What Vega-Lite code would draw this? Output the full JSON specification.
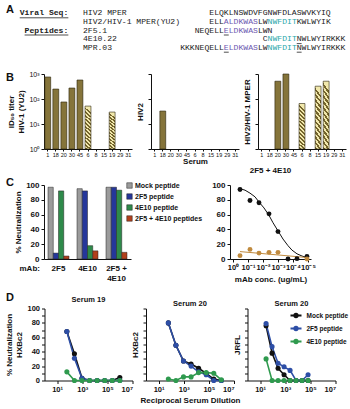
{
  "$schema": "https://vega.github.io/schema/vega-lite/v6.json",
  "padding": {"left": 5, "top": 0, "right": 0, "bottom": 0},
  "config": {
    "font": "Liberation Sans",
    "view": {"stroke": null},
    "axis": {"grid": false, "domainColor": "#111", "tickColor": "#111", "labelColor": "#111", "titleColor": "#111", "labelFontWeight": "bold", "titleFontWeight": "bold", "labelFontSize": 7, "titleFontSize": 8, "tickSize": 3, "domainWidth": 1, "tickWidth": 1, "labelPadding": 2, "titlePadding": 3},
    "legend": {"labelFontWeight": "bold", "labelFontSize": 7, "labelColor": "#111", "padding": 0, "title": null},
    "title": {"fontWeight": "bold", "fontSize": 8, "color": "#111"},
    "text": {"fontSize": 11, "fontWeight": "bold", "color": "#111", "align": "left", "baseline": "top"}
  },
  "datasets": {
    "seq": [
      {"line": 1, "col": -39, "text": "Viral Seq:", "cls": "lab"},
      {"line": 1, "col": -26, "text": "HIV2 MPER", "cls": "k"},
      {"line": 1, "col": 0, "text": "ELQKLNSWDVFGNWFDLASWVKYIQ", "cls": "k"},
      {"line": 2, "col": -26, "text": "HIV2/HIV-1 MPER(YU2)", "cls": "k"},
      {"line": 2, "col": 0, "text": "ELL", "cls": "k"},
      {"line": 2, "col": 3, "text": "ALDKWAS", "cls": "p"},
      {"line": 2, "col": 10, "text": "LW", "cls": "k"},
      {"line": 2, "col": 12, "text": "NWFDIT", "cls": "t"},
      {"line": 2, "col": 18, "text": "KWLWYIK", "cls": "k"},
      {"line": 3, "col": -38, "text": "Peptides:", "cls": "lab"},
      {"line": 3, "col": -26, "text": "2F5.1", "cls": "k"},
      {"line": 3, "col": -3, "text": "NEQELL", "cls": "k"},
      {"line": 3, "col": 3, "text": "ELDKWAS", "cls": "p"},
      {"line": 3, "col": 10, "text": "LWN", "cls": "k"},
      {"line": 4, "col": -26, "text": "4E10.22", "cls": "k"},
      {"line": 4, "col": 11, "text": "C", "cls": "k"},
      {"line": 4, "col": 12, "text": "NWFDIT", "cls": "t"},
      {"line": 4, "col": 18, "text": "NWLWYIRKKK", "cls": "k"},
      {"line": 5, "col": -26, "text": "MPR.03", "cls": "k"},
      {"line": 5, "col": -6, "text": "KKKNEQELL", "cls": "k"},
      {"line": 5, "col": 3, "text": "ELDKWAS", "cls": "p"},
      {"line": 5, "col": 10, "text": "LW", "cls": "k"},
      {"line": 5, "col": 12, "text": "NWFDIT", "cls": "t"},
      {"line": 5, "col": 18, "text": "NWLWYIRKKK", "cls": "k"}
    ],
    "ul": [
      {"line": 1, "start": -39, "end": -29},
      {"line": 3, "start": -38, "end": -29},
      {"line": 3, "start": 3, "end": 4},
      {"line": 4, "start": 18, "end": 19},
      {"line": 5, "start": 3, "end": 4},
      {"line": 5, "start": 18, "end": 19}
    ],
    "bdata": [
      {"virus": "YU2", "serum": "1", "titer": 760, "group": "solid"},
      {"virus": "YU2", "serum": "18", "titer": 250, "group": "solid"},
      {"virus": "YU2", "serum": "20", "titer": 76, "group": "solid"},
      {"virus": "YU2", "serum": "30", "titer": 275, "group": "solid"},
      {"virus": "YU2", "serum": "45", "titer": 575, "group": "solid"},
      {"virus": "YU2", "serum": "6", "titer": 52, "group": "hatched"},
      {"virus": "YU2", "serum": "19", "titer": 30, "group": "hatched"},
      {"virus": "HIV2", "serum": "18", "titer": 33, "group": "solid"},
      {"virus": "MPER", "serum": "20", "titer": 515, "group": "solid"},
      {"virus": "MPER", "serum": "30", "titer": 1000, "group": "solid"},
      {"virus": "MPER", "serum": "6", "titer": 66, "group": "hatched"},
      {"virus": "MPER", "serum": "15", "titer": 325, "group": "hatched"},
      {"virus": "MPER", "serum": "19", "titer": 515, "group": "hatched"}
    ],
    "cbar": [
      {"mab": "2F5", "peptide": "Mock peptide", "pct": 97},
      {"mab": "2F5", "peptide": "2F5 peptide", "pct": 8},
      {"mab": "2F5", "peptide": "4E10 peptide", "pct": 92},
      {"mab": "2F5", "peptide": "2F5 + 4E10 peptides", "pct": 4},
      {"mab": "4E10", "peptide": "Mock peptide", "pct": 95},
      {"mab": "4E10", "peptide": "2F5 peptide", "pct": 92},
      {"mab": "4E10", "peptide": "4E10 peptide", "pct": 18},
      {"mab": "4E10", "peptide": "2F5 + 4E10 peptides", "pct": 11},
      {"mab": "2F5 + 4E10", "peptide": "Mock peptide", "pct": 97},
      {"mab": "2F5 + 4E10", "peptide": "2F5 peptide", "pct": 97},
      {"mab": "2F5 + 4E10", "peptide": "4E10 peptide", "pct": 93},
      {"mab": "2F5 + 4E10", "peptide": "2F5 + 4E10 peptides", "pct": 9}
    ],
    "cpts": [
      {"series": "Mock peptide", "conc": 0.341, "pct": 94},
      {"series": "Mock peptide", "conc": 0.0736, "pct": 79},
      {"series": "Mock peptide", "conc": 0.0185, "pct": 76},
      {"series": "Mock peptide", "conc": 0.00398, "pct": 61},
      {"series": "Mock peptide", "conc": 0.001, "pct": 37},
      {"series": "Mock peptide", "conc": 0.000215, "pct": 0},
      {"series": "Mock peptide", "conc": 0.0000541, "pct": 0.5},
      {"series": "Mock peptide", "conc": 0.0000117, "pct": 3.5},
      {"series": "2F5/4E10 Peptides", "conc": 0.341, "pct": 4.5},
      {"series": "2F5/4E10 Peptides", "conc": 0.0736, "pct": 13},
      {"series": "2F5/4E10 Peptides", "conc": 0.0185, "pct": 8},
      {"series": "2F5/4E10 Peptides", "conc": 0.00398, "pct": 9},
      {"series": "2F5/4E10 Peptides", "conc": 0.001, "pct": 9},
      {"series": "2F5/4E10 Peptides", "conc": 0.0000117, "pct": 0}
    ],
    "cfit": [
      {"series": "Mock peptide", "conc": 0.341, "pct": 95},
      {"series": "Mock peptide", "conc": 0.158, "pct": 93},
      {"series": "Mock peptide", "conc": 0.0736, "pct": 89},
      {"series": "Mock peptide", "conc": 0.0341, "pct": 84},
      {"series": "Mock peptide", "conc": 0.0185, "pct": 77},
      {"series": "Mock peptide", "conc": 0.00858, "pct": 69},
      {"series": "Mock peptide", "conc": 0.00398, "pct": 59},
      {"series": "Mock peptide", "conc": 0.00215, "pct": 49},
      {"series": "Mock peptide", "conc": 0.001, "pct": 38},
      {"series": "Mock peptide", "conc": 0.000464, "pct": 27},
      {"series": "Mock peptide", "conc": 0.000215, "pct": 18},
      {"series": "Mock peptide", "conc": 0.000117, "pct": 12},
      {"series": "Mock peptide", "conc": 0.0000541, "pct": 7},
      {"series": "Mock peptide", "conc": 0.0000251, "pct": 4},
      {"series": "Mock peptide", "conc": 0.0000117, "pct": 2},
      {"series": "2F5/4E10 Peptides", "conc": 0.341, "pct": 10},
      {"series": "2F5/4E10 Peptides", "conc": 0.0000117, "pct": 2}
    ],
    "ddata": [
      {"panel": "s19", "pep": "Mock peptide", "dil": 60, "pct": 68},
      {"panel": "s19", "pep": "Mock peptide", "dil": 240, "pct": 37},
      {"panel": "s19", "pep": "Mock peptide", "dil": 960, "pct": 3},
      {"panel": "s19", "pep": "Mock peptide", "dil": 3840, "pct": 0},
      {"panel": "s19", "pep": "Mock peptide", "dil": 15360, "pct": 0},
      {"panel": "s19", "pep": "Mock peptide", "dil": 61440, "pct": 0},
      {"panel": "s19", "pep": "Mock peptide", "dil": 245760, "pct": 0},
      {"panel": "s19", "pep": "Mock peptide", "dil": 983040, "pct": 4},
      {"panel": "s19", "pep": "2F5 peptide", "dil": 60, "pct": 68},
      {"panel": "s19", "pep": "2F5 peptide", "dil": 240, "pct": 31},
      {"panel": "s19", "pep": "2F5 peptide", "dil": 960, "pct": 3},
      {"panel": "s19", "pep": "2F5 peptide", "dil": 3840, "pct": 0},
      {"panel": "s19", "pep": "2F5 peptide", "dil": 15360, "pct": 0},
      {"panel": "s19", "pep": "2F5 peptide", "dil": 61440, "pct": 0},
      {"panel": "s19", "pep": "2F5 peptide", "dil": 245760, "pct": 0},
      {"panel": "s19", "pep": "2F5 peptide", "dil": 983040, "pct": 0},
      {"panel": "s19", "pep": "4E10 peptide", "dil": 60, "pct": 12},
      {"panel": "s19", "pep": "4E10 peptide", "dil": 240, "pct": 0},
      {"panel": "s19", "pep": "4E10 peptide", "dil": 960, "pct": 0},
      {"panel": "s19", "pep": "4E10 peptide", "dil": 3840, "pct": 0},
      {"panel": "s19", "pep": "4E10 peptide", "dil": 15360, "pct": 0},
      {"panel": "s19", "pep": "4E10 peptide", "dil": 61440, "pct": 0},
      {"panel": "s19", "pep": "4E10 peptide", "dil": 245760, "pct": 0},
      {"panel": "s19", "pep": "4E10 peptide", "dil": 983040, "pct": 0},
      {"panel": "s20h", "pep": "Mock peptide", "dil": 60, "pct": 80},
      {"panel": "s20h", "pep": "Mock peptide", "dil": 240, "pct": 49},
      {"panel": "s20h", "pep": "Mock peptide", "dil": 960, "pct": 27},
      {"panel": "s20h", "pep": "Mock peptide", "dil": 3840, "pct": 23},
      {"panel": "s20h", "pep": "Mock peptide", "dil": 15360, "pct": 17},
      {"panel": "s20h", "pep": "Mock peptide", "dil": 61440, "pct": 10},
      {"panel": "s20h", "pep": "Mock peptide", "dil": 245760, "pct": 2},
      {"panel": "s20h", "pep": "Mock peptide", "dil": 983040, "pct": 0},
      {"panel": "s20h", "pep": "2F5 peptide", "dil": 60, "pct": 80},
      {"panel": "s20h", "pep": "2F5 peptide", "dil": 240, "pct": 49},
      {"panel": "s20h", "pep": "2F5 peptide", "dil": 960, "pct": 27},
      {"panel": "s20h", "pep": "2F5 peptide", "dil": 3840, "pct": 20},
      {"panel": "s20h", "pep": "2F5 peptide", "dil": 15360, "pct": 12},
      {"panel": "s20h", "pep": "2F5 peptide", "dil": 61440, "pct": 8},
      {"panel": "s20h", "pep": "2F5 peptide", "dil": 245760, "pct": 0},
      {"panel": "s20h", "pep": "2F5 peptide", "dil": 983040, "pct": 0},
      {"panel": "s20h", "pep": "4E10 peptide", "dil": 60, "pct": 2},
      {"panel": "s20h", "pep": "4E10 peptide", "dil": 240, "pct": 0},
      {"panel": "s20h", "pep": "4E10 peptide", "dil": 960, "pct": 5},
      {"panel": "s20h", "pep": "4E10 peptide", "dil": 3840, "pct": 5},
      {"panel": "s20h", "pep": "4E10 peptide", "dil": 15360, "pct": 11},
      {"panel": "s20h", "pep": "4E10 peptide", "dil": 61440, "pct": 11},
      {"panel": "s20h", "pep": "4E10 peptide", "dil": 245760, "pct": 10},
      {"panel": "s20h", "pep": "4E10 peptide", "dil": 983040, "pct": 1},
      {"panel": "s20j", "pep": "Mock peptide", "dil": 30, "pct": 76},
      {"panel": "s20j", "pep": "Mock peptide", "dil": 90, "pct": 38},
      {"panel": "s20j", "pep": "Mock peptide", "dil": 270, "pct": 17},
      {"panel": "s20j", "pep": "Mock peptide", "dil": 810, "pct": 8},
      {"panel": "s20j", "pep": "Mock peptide", "dil": 2430, "pct": 0},
      {"panel": "s20j", "pep": "Mock peptide", "dil": 7290, "pct": 0},
      {"panel": "s20j", "pep": "Mock peptide", "dil": 21870, "pct": 0},
      {"panel": "s20j", "pep": "Mock peptide", "dil": 65610, "pct": 0},
      {"panel": "s20j", "pep": "2F5 peptide", "dil": 30, "pct": 79},
      {"panel": "s20j", "pep": "2F5 peptide", "dil": 90, "pct": 47},
      {"panel": "s20j", "pep": "2F5 peptide", "dil": 270, "pct": 24},
      {"panel": "s20j", "pep": "2F5 peptide", "dil": 810, "pct": 19},
      {"panel": "s20j", "pep": "2F5 peptide", "dil": 2430, "pct": 14},
      {"panel": "s20j", "pep": "2F5 peptide", "dil": 7290, "pct": 0},
      {"panel": "s20j", "pep": "2F5 peptide", "dil": 21870, "pct": 0},
      {"panel": "s20j", "pep": "2F5 peptide", "dil": 65610, "pct": 8},
      {"panel": "s20j", "pep": "4E10 peptide", "dil": 30, "pct": 30},
      {"panel": "s20j", "pep": "4E10 peptide", "dil": 90, "pct": 0},
      {"panel": "s20j", "pep": "4E10 peptide", "dil": 270, "pct": 0},
      {"panel": "s20j", "pep": "4E10 peptide", "dil": 810, "pct": 0},
      {"panel": "s20j", "pep": "4E10 peptide", "dil": 2430, "pct": 0},
      {"panel": "s20j", "pep": "4E10 peptide", "dil": 7290, "pct": 0},
      {"panel": "s20j", "pep": "4E10 peptide", "dil": 21870, "pct": 0},
      {"panel": "s20j", "pep": "4E10 peptide", "dil": 65610, "pct": 0}
    ]
  },
  "spacing": 7.5,
  "resolve": {"scale": {"color": "independent", "stroke": "independent", "x": "independent", "y": "independent"}, "legend": {"color": "independent", "stroke": "independent"}},
  "vconcat": [
    {
      "spacing": 0,
      "resolve": {"scale": {"color": "independent", "stroke": "independent", "x": "independent", "y": "independent"}, "legend": {"color": "independent", "stroke": "independent"}},
      "vconcat": [
        {
          "bounds": "flush",
          "spacing": 10,
          "resolve": {"scale": {"color": "independent", "x": "independent", "y": "independent"}},
          "hconcat": [
            {
              "width": 28, "height": 69.5,
              "data": {"values": [{"letter": "A"}]},
              "mark": {"type": "text"},
              "encoding": {
                "text": {"field": "letter"},
                "x": {"datum": 0, "type": "quantitative", "scale": {"domain": [0, 1], "nice": false}, "axis": null},
                "y": {"datum": 0.9396, "type": "quantitative", "scale": {"domain": [0, 1], "nice": false}, "axis": null}
              }
            },
            {
              "width": 300,
              "height": 69.5,
              "data": {"name": "seq"},
              "encoding": {
                "y": {"field": "line", "type": "ordinal", "scale": {"type": "point", "range": [9, 52]}, "axis": null}
              },
              "layer": [
                {
                  "transform": [{"filter": "datum.cls === 'lab'"}],
                  "mark": {"type": "text", "font": "Liberation Mono", "fontSize": 8.1, "fontWeight": "bold", "align": "left", "baseline": "middle", "color": "#222"},
                  "encoding": {
                    "x": {"field": "col", "type": "quantitative", "scale": {"domain": [-34.01, 27.72], "nice": false, "zero": false}, "axis": null},
                    "text": {"field": "text"}
                  }
                },
                {
                  "transform": [{"filter": "datum.cls !== 'lab'"}],
                  "mark": {"type": "text", "font": "Liberation Mono", "fontSize": 8.1, "fontWeight": "normal", "align": "left", "baseline": "middle"},
                  "encoding": {
                    "x": {"field": "col", "type": "quantitative", "scale": {"domain": [-34.01, 27.72], "nice": false, "zero": false}, "axis": null},
                    "text": {"field": "text"},
                    "color": {"field": "cls", "type": "nominal", "scale": {"domain": ["k", "p", "t"], "range": ["#222222", "#6c57b0", "#2aa8aa"]}, "legend": null}
                  }
                },
                {
                  "data": {"name": "ul"},
                  "mark": {"type": "rule", "color": "#222", "strokeWidth": 0.8, "yOffset": 4.5},
                  "encoding": {
                    "x": {"field": "start", "type": "quantitative", "scale": {"domain": [-34.01, 27.72], "nice": false, "zero": false}, "axis": null},
                    "x2": {"field": "end"}
                  }
                }
              ]
            }
          ]
        },
        {
          "bounds": "flush",
          "spacing": 19,
          "resolve": {"scale": {"x": "independent", "y": "independent"}},
          "hconcat": [
            {
              "width": 19, "height": 75,
              "data": {"values": [{"letter": "B"}]},
              "mark": {"type": "text"},
              "encoding": {
                "text": {"field": "letter"},
                "x": {"datum": 0, "type": "quantitative", "scale": {"domain": [0, 1], "nice": false}, "axis": null},
                "y": {"datum": 1.024, "type": "quantitative", "scale": {"domain": [0, 1], "nice": false}, "axis": null}
              }
            },
            {
              "width": 88, "height": 75,
              "data": {"name": "bdata"},
              "transform": [{"filter": "datum.virus === 'YU2'"}],
              "encoding": {
                "x": {"field": "serum", "type": "nominal", "scale": {"domain": ["1", "18", "20", "30", "45", "6", "8", "15", "19", "29", "31"], "paddingInner": 0.27, "paddingOuter": 0.1}, "axis": {"title": null, "labelAngle": 0, "labelFontSize": 5.5, "tickSize": 2, "labelPadding": 1, "labelFontWeight": "normal"}},
                "y": {"field": "titer", "type": "quantitative", "scale": {"type": "log", "domain": [1, 1000], "nice": false}, "axis": {"values": [1, 10, 100, 1000], "labelExpr": "datum.value < 5 ? '10⁰' : datum.value < 50 ? '10¹' : datum.value < 500 ? '10²' : '10³'", "title": ["ID₅₀ titer", "HIV-1 (YU2)"], "labelFontWeight": "normal"}},
                "y2": {"datum": 1}
              },
              "layer": [
                {"transform": [{"filter": "datum.group === 'solid'"}], "mark": {"type": "bar", "fill": "#85743a", "stroke": "#2a230c", "strokeWidth": 0.6}},
                {"transform": [{"filter": "datum.group === 'hatched'"}], "mark": {"type": "bar", "stroke": "#2a230c", "strokeWidth": 0.6, "fill": {"gradient": "linear", "x1": 0.12, "y1": 0, "x2": 0, "y2": 1, "stops": [
                  {"offset": 0, "color": "#f1e8ac"}, {"offset": 0.04167, "color": "#f1e8ac"}, {"offset": 0.04167, "color": "#75652c"}, {"offset": 0.08333, "color": "#75652c"},
                  {"offset": 0.08333, "color": "#f1e8ac"}, {"offset": 0.125, "color": "#f1e8ac"}, {"offset": 0.125, "color": "#75652c"}, {"offset": 0.16667, "color": "#75652c"},
                  {"offset": 0.16667, "color": "#f1e8ac"}, {"offset": 0.20833, "color": "#f1e8ac"}, {"offset": 0.20833, "color": "#75652c"}, {"offset": 0.25, "color": "#75652c"},
                  {"offset": 0.25, "color": "#f1e8ac"}, {"offset": 0.29167, "color": "#f1e8ac"}, {"offset": 0.29167, "color": "#75652c"}, {"offset": 0.33333, "color": "#75652c"},
                  {"offset": 0.33333, "color": "#f1e8ac"}, {"offset": 0.375, "color": "#f1e8ac"}, {"offset": 0.375, "color": "#75652c"}, {"offset": 0.41667, "color": "#75652c"},
                  {"offset": 0.41667, "color": "#f1e8ac"}, {"offset": 0.45833, "color": "#f1e8ac"}, {"offset": 0.45833, "color": "#75652c"}, {"offset": 0.5, "color": "#75652c"},
                  {"offset": 0.5, "color": "#f1e8ac"}, {"offset": 0.54167, "color": "#f1e8ac"}, {"offset": 0.54167, "color": "#75652c"}, {"offset": 0.58333, "color": "#75652c"},
                  {"offset": 0.58333, "color": "#f1e8ac"}, {"offset": 0.625, "color": "#f1e8ac"}, {"offset": 0.625, "color": "#75652c"}, {"offset": 0.66667, "color": "#75652c"},
                  {"offset": 0.66667, "color": "#f1e8ac"}, {"offset": 0.70833, "color": "#f1e8ac"}, {"offset": 0.70833, "color": "#75652c"}, {"offset": 0.75, "color": "#75652c"},
                  {"offset": 0.75, "color": "#f1e8ac"}, {"offset": 0.79167, "color": "#f1e8ac"}, {"offset": 0.79167, "color": "#75652c"}, {"offset": 0.83333, "color": "#75652c"},
                  {"offset": 0.83333, "color": "#f1e8ac"}, {"offset": 0.875, "color": "#f1e8ac"}, {"offset": 0.875, "color": "#75652c"}, {"offset": 0.91667, "color": "#75652c"},
                  {"offset": 0.91667, "color": "#f1e8ac"}, {"offset": 0.95833, "color": "#f1e8ac"}, {"offset": 0.95833, "color": "#75652c"}, {"offset": 1, "color": "#75652c"}
                ]}}}
              ]
            },
            {
              "width": 88, "height": 75,
              "data": {"name": "bdata"},
              "transform": [{"filter": "datum.virus === 'HIV2'"}],
              "encoding": {
                "x": {"field": "serum", "type": "nominal", "scale": {"domain": ["1", "18", "20", "30", "45", "6", "8", "15", "19", "29", "31"], "paddingInner": 0.27, "paddingOuter": 0.1}, "axis": {"title": "Serum", "labelAngle": 0, "labelFontSize": 5.5, "tickSize": 2, "labelPadding": 1, "labelFontWeight": "normal", "titlePadding": 0}},
                "y": {"field": "titer", "type": "quantitative", "scale": {"type": "log", "domain": [1, 1000], "nice": false}, "axis": {"values": [1, 10, 100, 1000], "labels": false, "title": "HIV2"}},
                "y2": {"datum": 1}
              },
              "mark": {"type": "bar", "fill": "#85743a", "stroke": "#2a230c", "strokeWidth": 0.6}
            },
            {
              "width": 88, "height": 75,
              "data": {"name": "bdata"},
              "transform": [{"filter": "datum.virus === 'MPER'"}],
              "encoding": {
                "x": {"field": "serum", "type": "nominal", "scale": {"domain": ["1", "18", "20", "30", "45", "6", "8", "15", "19", "29", "31"], "paddingInner": 0.27, "paddingOuter": 0.1}, "axis": {"title": null, "labelAngle": 0, "labelFontSize": 5.5, "tickSize": 2, "labelPadding": 1, "labelFontWeight": "normal"}},
                "y": {"field": "titer", "type": "quantitative", "scale": {"type": "log", "domain": [1, 1000], "nice": false}, "axis": {"values": [1, 10, 100, 1000], "labels": false, "title": "HIV2/HIV-1 MPER"}},
                "y2": {"datum": 1}
              },
              "layer": [
                {"transform": [{"filter": "datum.group === 'solid'"}], "mark": {"type": "bar", "fill": "#85743a", "stroke": "#2a230c", "strokeWidth": 0.6}},
                {"transform": [{"filter": "datum.group === 'hatched'"}], "mark": {"type": "bar", "stroke": "#2a230c", "strokeWidth": 0.6, "fill": {"gradient": "linear", "x1": 0.12, "y1": 0, "x2": 0, "y2": 1, "stops": [
                  {"offset": 0, "color": "#f1e8ac"}, {"offset": 0.04167, "color": "#f1e8ac"}, {"offset": 0.04167, "color": "#75652c"}, {"offset": 0.08333, "color": "#75652c"},
                  {"offset": 0.08333, "color": "#f1e8ac"}, {"offset": 0.125, "color": "#f1e8ac"}, {"offset": 0.125, "color": "#75652c"}, {"offset": 0.16667, "color": "#75652c"},
                  {"offset": 0.16667, "color": "#f1e8ac"}, {"offset": 0.20833, "color": "#f1e8ac"}, {"offset": 0.20833, "color": "#75652c"}, {"offset": 0.25, "color": "#75652c"},
                  {"offset": 0.25, "color": "#f1e8ac"}, {"offset": 0.29167, "color": "#f1e8ac"}, {"offset": 0.29167, "color": "#75652c"}, {"offset": 0.33333, "color": "#75652c"},
                  {"offset": 0.33333, "color": "#f1e8ac"}, {"offset": 0.375, "color": "#f1e8ac"}, {"offset": 0.375, "color": "#75652c"}, {"offset": 0.41667, "color": "#75652c"},
                  {"offset": 0.41667, "color": "#f1e8ac"}, {"offset": 0.45833, "color": "#f1e8ac"}, {"offset": 0.45833, "color": "#75652c"}, {"offset": 0.5, "color": "#75652c"},
                  {"offset": 0.5, "color": "#f1e8ac"}, {"offset": 0.54167, "color": "#f1e8ac"}, {"offset": 0.54167, "color": "#75652c"}, {"offset": 0.58333, "color": "#75652c"},
                  {"offset": 0.58333, "color": "#f1e8ac"}, {"offset": 0.625, "color": "#f1e8ac"}, {"offset": 0.625, "color": "#75652c"}, {"offset": 0.66667, "color": "#75652c"},
                  {"offset": 0.66667, "color": "#f1e8ac"}, {"offset": 0.70833, "color": "#f1e8ac"}, {"offset": 0.70833, "color": "#75652c"}, {"offset": 0.75, "color": "#75652c"},
                  {"offset": 0.75, "color": "#f1e8ac"}, {"offset": 0.79167, "color": "#f1e8ac"}, {"offset": 0.79167, "color": "#75652c"}, {"offset": 0.83333, "color": "#75652c"},
                  {"offset": 0.83333, "color": "#f1e8ac"}, {"offset": 0.875, "color": "#f1e8ac"}, {"offset": 0.875, "color": "#75652c"}, {"offset": 0.91667, "color": "#75652c"},
                  {"offset": 0.91667, "color": "#f1e8ac"}, {"offset": 0.95833, "color": "#f1e8ac"}, {"offset": 0.95833, "color": "#75652c"}, {"offset": 1, "color": "#75652c"}
                ]}}}
              ]
            }
          ]
        },
        {
          "bounds": "flush",
          "spacing": 10,
          "resolve": {"scale": {"color": "independent", "stroke": "independent", "x": "independent", "y": "independent"}, "legend": {"color": "independent", "stroke": "independent"}},
          "hconcat": [
            {
              "width": 28, "height": 74,
              "data": {"values": [{"letter": "C"}]},
              "mark": {"type": "text"},
              "encoding": {
                "text": {"field": "letter"},
                "x": {"datum": 0, "type": "quantitative", "scale": {"domain": [0, 1], "nice": false}, "axis": null},
                "y": {"datum": 1.105, "type": "quantitative", "scale": {"domain": [0, 1], "nice": false}, "axis": null}
              }
            },
            {
              "width": 87, "height": 74,
              "data": {"name": "cbar"},
              "mark": {"type": "bar", "stroke": "#222", "strokeWidth": 0.5},
              "encoding": {
                "x": {"field": "mab", "type": "nominal", "scale": {"domain": ["2F5", "4E10", "2F5 + 4E10"], "paddingInner": 0.276, "paddingOuter": 0.138}, "axis": {"title": "mAb:", "titleAngle": 0, "titleAlign": "left", "titleBaseline": "top", "titleX": -25, "titleY": 5, "titleFontSize": 8, "labelAngle": 0, "ticks": false, "labelPadding": 5, "labelFontSize": 8, "labelBaseline": "top", "labelExpr": "datum.value === '2F5 + 4E10' ? ['2F5 +', '4E10'] : datum.value"}},
                "xOffset": {"field": "peptide", "type": "nominal", "scale": {"domain": ["Mock peptide", "2F5 peptide", "4E10 peptide", "2F5 + 4E10 peptides"]}},
                "y": {"field": "pct", "type": "quantitative", "scale": {"domain": [0, 100]}, "axis": {"values": [0, 20, 40, 60, 80, 100], "title": "% Neutralization", "labelFontSize": 8}},
                "color": {"field": "peptide", "type": "nominal", "scale": {"domain": ["Mock peptide", "2F5 peptide", "4E10 peptide", "2F5 + 4E10 peptides"], "range": ["#9b9b9b", "#25379a", "#2e8a4a", "#b2401c"]}, "legend": {"orient": "none", "legendX": 82, "legendY": -3, "symbolType": "square", "symbolSize": 30, "symbolStrokeColor": "#222", "symbolStrokeWidth": 0.5, "rowPadding": 2, "labelOffset": 2}}
              }
            },
            {
              "width": 79, "height": 74,
              "data": {"values": []},
              "mark": "point"
            },
            {
              "width": 81, "height": 74,
              "title": {"text": "2F5 + 4E10", "fontSize": 8, "offset": 6.5},
              "encoding": {
                "x": {"field": "conc", "type": "quantitative", "scale": {"type": "log", "domain": [0.0000063, 1.585], "reverse": true, "nice": false}, "axis": {"values": [1, 0.1, 0.01, 0.001, 0.0001, 0.00001], "labelExpr": "'10' + (datum.value > 0.5 ? '⁰' : datum.value > 0.05 ? '⁻¹' : datum.value > 0.005 ? '⁻²' : datum.value > 0.0005 ? '⁻³' : datum.value > 0.00005 ? '⁻⁴' : '⁻⁵')", "title": "mAb conc. (ug/mL)", "labelFontSize": 7.5, "labelPadding": 1, "titlePadding": 5}},
                "y": {"field": "pct", "type": "quantitative", "scale": {"domain": [0, 100]}, "axis": {"values": [0, 20, 40, 60, 80, 100], "title": null, "labelFontSize": 8}}
              },
              "layer": [
                {
                  "data": {"name": "cfit"},
                  "mark": {"type": "line", "strokeWidth": 1},
                  "encoding": {"stroke": {"field": "series", "type": "nominal", "scale": {"domain": ["Mock peptide", "2F5/4E10 Peptides"], "range": ["#111111", "#c08a3e"]}, "legend": null}}
                },
                {
                  "data": {"name": "cpts"},
                  "mark": {"type": "circle", "size": 24, "opacity": 1},
                  "encoding": {"color": {"field": "series", "type": "nominal", "scale": {"domain": ["Mock peptide", "2F5/4E10 Peptides"], "range": ["#111111", "#c08a3e"]}, "legend": {"orient": "none", "legendX": 43, "legendY": -1, "symbolType": "circle", "symbolSize": 30, "rowPadding": 1, "labelOffset": 3}}}
                }
              ]
            }
          ]
        }
      ]
    },
    {
      "bounds": "flush",
      "spacing": 13.5,
      "resolve": {"scale": {"color": "independent", "stroke": "independent", "x": "independent", "y": "independent"}, "legend": {"color": "independent", "stroke": "independent"}},
      "hconcat": [
        {
          "width": 24.5, "height": 72,
          "data": {"values": [{"letter": "D"}]},
          "mark": {"type": "text"},
          "encoding": {
            "text": {"field": "letter"},
            "x": {"datum": 0, "type": "quantitative", "scale": {"domain": [0, 1], "nice": false}, "axis": null},
            "y": {"datum": 1.233, "type": "quantitative", "scale": {"domain": [0, 1], "nice": false}, "axis": null}
          }
        },
        {
          "width": 88, "height": 72,
          "data": {"name": "ddata"},
          "title": {"text": "Serum 19", "fontSize": 7.5, "offset": 1},
          "transform": [{"filter": "datum.panel === 's19'"}],
          "encoding": {
            "x": {"field": "dil", "type": "quantitative", "scale": {"type": "log", "domain": [1, 10000000], "nice": false}, "axis": {"values": [10, 1000, 100000, 10000000], "labelExpr": "'10' + (datum.value < 100 ? '¹' : datum.value < 10000 ? '³' : datum.value < 1000000 ? '⁵' : '⁷')", "title": null, "labelFontSize": 7.5}},
            "y": {"field": "pct", "type": "quantitative", "scale": {"domain": [0, 100]}, "axis": {"values": [0, 10, 20, 30, 40, 50, 60, 70, 80, 90, 100], "labelExpr": "datum.value % 20 === 0 ? datum.label : ''", "title": ["% Neutralization", "HXBc2"], "labelFontSize": 7.5}}
          },
          "layer": [
            {"mark": {"type": "line", "strokeWidth": 1.6}, "encoding": {"stroke": {"field": "pep", "type": "nominal", "scale": {"domain": ["Mock peptide", "2F5 peptide", "4E10 peptide"], "range": ["#111111", "#2d4ea6", "#2f9a4e"]}, "legend": null}}},
            {"mark": {"type": "circle", "size": 26, "opacity": 1}, "encoding": {"color": {"field": "pep", "type": "nominal", "scale": {"domain": ["Mock peptide", "2F5 peptide", "4E10 peptide"], "range": ["#111111", "#2d4ea6", "#2f9a4e"]}, "legend": null}}}
          ]
        },
        {
          "width": 88, "height": 72,
          "data": {"name": "ddata"},
          "title": {"text": "Serum 20", "fontSize": 7.5, "offset": 1},
          "transform": [{"filter": "datum.panel === 's20h'"}],
          "encoding": {
            "x": {"field": "dil", "type": "quantitative", "scale": {"type": "log", "domain": [1, 10000000], "nice": false}, "axis": {"values": [10, 1000, 100000, 10000000], "labelExpr": "'10' + (datum.value < 100 ? '¹' : datum.value < 10000 ? '³' : datum.value < 1000000 ? '⁵' : '⁷')", "title": "Reciprocal Serum Dilution", "labelFontSize": 7.5}},
            "y": {"field": "pct", "type": "quantitative", "scale": {"domain": [0, 100]}, "axis": {"values": [0, 10, 20, 30, 40, 50, 60, 70, 80, 90, 100], "labels": false, "title": "HXBc2"}}
          },
          "layer": [
            {"mark": {"type": "line", "strokeWidth": 1.6}, "encoding": {"stroke": {"field": "pep", "type": "nominal", "scale": {"domain": ["Mock peptide", "2F5 peptide", "4E10 peptide"], "range": ["#111111", "#2d4ea6", "#2f9a4e"]}, "legend": null}}},
            {"mark": {"type": "circle", "size": 26, "opacity": 1}, "encoding": {"color": {"field": "pep", "type": "nominal", "scale": {"domain": ["Mock peptide", "2F5 peptide", "4E10 peptide"], "range": ["#111111", "#2d4ea6", "#2f9a4e"]}, "legend": null}}}
          ]
        },
        {
          "width": 88, "height": 72,
          "title": {"text": "Serum 20", "fontSize": 7.5, "offset": 1},
          "encoding": {
            "x": {"field": "dil", "type": "quantitative", "scale": {"type": "log", "domain": [1, 10000000], "nice": false}, "axis": {"values": [10, 1000, 100000, 10000000], "labelExpr": "'10' + (datum.value < 100 ? '¹' : datum.value < 10000 ? '³' : datum.value < 1000000 ? '⁵' : '⁷')", "title": null, "labelFontSize": 7.5}},
            "y": {"field": "pct", "type": "quantitative", "scale": {"domain": [0, 100]}, "axis": {"values": [0, 10, 20, 30, 40, 50, 60, 70, 80, 90, 100], "labels": false, "title": "JRFL"}}
          },
          "layer": [
            {"data": {"name": "ddata"}, "transform": [{"filter": "datum.panel === 's20j'"}], "mark": {"type": "line", "strokeWidth": 1.6}, "encoding": {"stroke": {"field": "pep", "type": "nominal", "scale": {"domain": ["Mock peptide", "2F5 peptide", "4E10 peptide"], "range": ["#111111", "#2d4ea6", "#2f9a4e"]}, "legend": {"orient": "none", "legendX": 42, "legendY": 0.5, "symbolType": "M-1,0L1,0M0.3,0A0.3,0.3 0 1,1 -0.3,0A0.3,0.3 0 1,1 0.3,0Z", "symbolSize": 121, "symbolStrokeWidth": 2, "symbolFillColor": "transparent", "rowPadding": 0, "labelOffset": 4, "labelFontSize": 6.5}}}},
            {"data": {"name": "ddata"}, "transform": [{"filter": "datum.panel === 's20j'"}], "mark": {"type": "circle", "size": 26, "opacity": 1}, "encoding": {"color": {"field": "pep", "type": "nominal", "scale": {"domain": ["Mock peptide", "2F5 peptide", "4E10 peptide"], "range": ["#111111", "#2d4ea6", "#2f9a4e"]}, "legend": null}}}
          ]
        }
      ]
    }
  ]
}
